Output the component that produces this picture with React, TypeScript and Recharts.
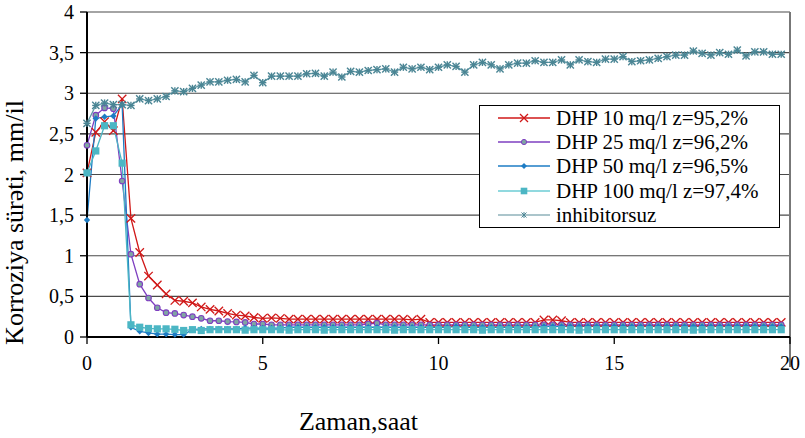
import React from 'react';
import { LineChart, Line, XAxis, YAxis, CartesianGrid } from 'recharts';

const times = [
  0, 0.25, 0.5, 0.75, 1, 1.25, 1.5, 1.75, 2, 2.25, 2.5, 2.75, 3, 3.25, 3.5, 3.75,
  4, 4.25, 4.5, 4.75, 5, 5.25, 5.5, 5.75, 6, 6.25, 6.5, 6.75, 7, 7.25, 7.5, 7.75,
  8, 8.25, 8.5, 8.75, 9, 9.25, 9.5, 9.75, 10, 10.25, 10.5, 10.75, 11, 11.25, 11.5, 11.75,
  12, 12.25, 12.5, 12.75, 13, 13.25, 13.5, 13.75, 14, 14.25, 14.5, 14.75, 15, 15.25, 15.5, 15.75,
  16, 16.25, 16.5, 16.75, 17, 17.25, 17.5, 17.75, 18, 18.25, 18.5, 18.75, 19, 19.25, 19.5, 19.75,
];

const dhp10 = [
  2.02, 2.52, 2.65, 2.54, 2.93, 1.46, 1.04, 0.75, 0.64, 0.53, 0.45, 0.44, 0.42, 0.37, 0.34, 0.32,
  0.29, 0.27, 0.26, 0.24, 0.23, 0.235, 0.23, 0.22, 0.22, 0.22, 0.22, 0.22, 0.22, 0.22, 0.22, 0.22,
  0.22, 0.22, 0.22, 0.22, 0.22, 0.21, 0.22, 0.18, 0.18, 0.18, 0.18, 0.18, 0.18, 0.18, 0.18, 0.18,
  0.18, 0.18, 0.18, 0.18, 0.21, 0.21, 0.2, 0.18, 0.18, 0.18, 0.18, 0.18, 0.18, 0.18, 0.18, 0.18,
  0.18, 0.18, 0.18, 0.18, 0.18, 0.18, 0.18, 0.18, 0.18, 0.18, 0.18, 0.18, 0.18, 0.18, 0.18, 0.18,
];

const dhp25 = [
  2.36, 2.73, 2.82, 2.81, 1.92, 1.02, 0.65, 0.48, 0.36, 0.3, 0.29, 0.27, 0.25, 0.23, 0.2, 0.2,
  0.19, 0.185, 0.18, 0.16, 0.16, 0.15, 0.15, 0.15, 0.15, 0.15, 0.15, 0.15, 0.15, 0.15, 0.15, 0.15,
  0.16, 0.17, 0.15, 0.15, 0.15, 0.15, 0.15, 0.15, 0.15, 0.15, 0.15, 0.15, 0.15, 0.15, 0.15, 0.15,
  0.15, 0.15, 0.15, 0.15, 0.15, 0.15, 0.15, 0.15, 0.15, 0.15, 0.15, 0.15, 0.15, 0.15, 0.15, 0.15,
  0.15, 0.15, 0.15, 0.15, 0.15, 0.15, 0.15, 0.15, 0.15, 0.15, 0.15, 0.15, 0.15, 0.15, 0.15, 0.15,
];

const dhp50 = [
  1.44, 2.69, 2.71, 2.72, 2.86, 0.12, 0.07, 0.05, 0.035, 0.035, 0.03, 0.03, 0.09, 0.1, 0.1, 0.1,
  0.1, 0.1, 0.11, 0.11, 0.11, 0.11, 0.11, 0.12, 0.12, 0.12, 0.12, 0.12, 0.12, 0.12, 0.12, 0.12,
  0.12, 0.12, 0.12, 0.12, 0.12, 0.12, 0.12, 0.12, 0.12, 0.12, 0.13, 0.12, 0.12, 0.12, 0.12, 0.12,
  0.12, 0.12, 0.12, 0.12, 0.13, 0.13, 0.13, 0.13, 0.13, 0.13, 0.13, 0.13, 0.13, 0.13, 0.13, 0.13,
  0.13, 0.13, 0.13, 0.13, 0.13, 0.13, 0.13, 0.13, 0.13, 0.13, 0.13, 0.13, 0.13, 0.13, 0.13, 0.13,
];

const dhp100 = [
  2.02, 2.29, 2.6, 2.6, 2.14, 0.15, 0.12, 0.105, 0.1, 0.1, 0.095, 0.08, 0.09, 0.08, 0.09, 0.09,
  0.09, 0.09, 0.085, 0.09, 0.09, 0.09, 0.09, 0.085, 0.09, 0.09, 0.09, 0.085, 0.09, 0.09, 0.09, 0.09,
  0.09, 0.09, 0.09, 0.085, 0.09, 0.09, 0.09, 0.09, 0.09, 0.09, 0.09, 0.09, 0.09, 0.085, 0.09, 0.09,
  0.09, 0.09, 0.09, 0.09, 0.09, 0.09, 0.09, 0.09, 0.085, 0.09, 0.09, 0.09, 0.09, 0.09, 0.09, 0.09,
  0.09, 0.09, 0.09, 0.09, 0.09, 0.085, 0.09, 0.09, 0.09, 0.09, 0.09, 0.09, 0.09, 0.09, 0.09, 0.09,
];

const noInhibitor = [
  2.63, 2.85, 2.88, 2.86, 2.86, 2.85, 2.93, 2.91, 2.93, 2.96, 3.03, 3.02, 3.06, 3.1, 3.14, 3.14,
  3.16, 3.17, 3.14, 3.22, 3.13, 3.21, 3.21, 3.21, 3.21, 3.24, 3.245, 3.21, 3.26, 3.2, 3.27, 3.26,
  3.28, 3.29, 3.3, 3.26, 3.32, 3.3, 3.32, 3.29, 3.32, 3.35, 3.33, 3.26, 3.35, 3.38, 3.35, 3.3,
  3.35, 3.37, 3.37, 3.4, 3.38, 3.38, 3.41, 3.35, 3.41, 3.39, 3.38, 3.42, 3.42, 3.45, 3.39, 3.4,
  3.41, 3.43, 3.45, 3.47, 3.47, 3.52, 3.49, 3.47, 3.5, 3.48, 3.53, 3.46, 3.51, 3.51, 3.48, 3.48,
];

const seriesNames = [
  'DHP 10 mq/l z=95,2%',
  'DHP 25 mq/l z=96,2%',
  'DHP 50 mq/l z=96,5%',
  'DHP 100 mq/l z=97,4%',
  'inhibitorsuz',
];

const xTicks = [0, 5, 10, 15, 20];
const yTicks = [0, 0.5, 1, 1.5, 2, 2.5, 3, 3.5, 4];

const data = times.map((t, i) => ({
  t,
  a: dhp10[i],
  b: dhp25[i],
  c: dhp50[i],
  d: dhp100[i],
  e: noInhibitor[i],
}));

const FONT = "'Liberation Serif', Tinos, 'Times New Roman', Times, 'Nimbus Roman', 'DejaVu Serif', serif";

const RED = '#D01818';
const PURPLE = '#7E3FC0';
const BLUE = '#1E7CC4';
const CYAN = '#4CB6C4';
const TEAL = '#5F98A6';

const CrossDot = (p: any) => {
  const { cx, cy } = p;
  if (cx == null || cy == null) return null;
  const s = 4.2;
  return (
    <g>
      <line x1={cx - s} y1={cy - s} x2={cx + s} y2={cy + s} stroke={RED} strokeWidth={1.3} />
      <line x1={cx - s} y1={cy + s} x2={cx + s} y2={cy - s} stroke={RED} strokeWidth={1.3} />
    </g>
  );
};

const CircleDot = (p: any) => {
  const { cx, cy } = p;
  if (cx == null || cy == null) return null;
  return <circle cx={cx} cy={cy} r={2.8} fill="#7FA6A2" stroke={PURPLE} strokeWidth={1.1} />;
};

const DiamondDot = (p: any) => {
  const { cx, cy } = p;
  if (cx == null || cy == null) return null;
  const s = 3.2;
  return <path d={`M${cx},${cy - s}L${cx + s},${cy}L${cx},${cy + s}L${cx - s},${cy}Z`} fill={BLUE} />;
};

const SquareDot = (p: any) => {
  const { cx, cy } = p;
  if (cx == null || cy == null) return null;
  const s = 3.6;
  return <rect x={cx - s} y={cy - s} width={2 * s} height={2 * s} fill={CYAN} />;
};

const StarDot = (p: any) => {
  const { cx, cy } = p;
  if (cx == null || cy == null) return null;
  const s = 3.6;
  return (
    <g stroke="#4A8594" strokeWidth={1.4}>
      <line x1={cx - s} y1={cy - s} x2={cx + s} y2={cy + s} />
      <line x1={cx - s} y1={cy + s} x2={cx + s} y2={cy - s} />
      <line x1={cx} y1={cy - s} x2={cx} y2={cy + s} />
      <line x1={cx - s} y1={cy} x2={cx + s} y2={cy} />
    </g>
  );
};

const legendStyles = [
  { color: RED, kind: 'cross' },
  { color: PURPLE, kind: 'circle' },
  { color: BLUE, kind: 'diamond' },
  { color: '#6CCCD4', kind: 'square' },
  { color: '#8FB2BA', kind: 'star' },
];

const LegendMarker = ({ kind, color }: { kind: string; color: string }) => {
  const cx = 30;
  const cy = 10;
  let m: React.ReactNode = null;
  if (kind === 'cross') {
    m = (
      <g stroke={RED} strokeWidth={1.2}>
        <line x1={cx - 4} y1={cy - 4} x2={cx + 4} y2={cy + 4} />
        <line x1={cx - 4} y1={cy + 4} x2={cx + 4} y2={cy - 4} />
      </g>
    );
  } else if (kind === 'circle') {
    m = <circle cx={cx} cy={cy} r={2.6} fill="#7FA6A2" stroke={PURPLE} strokeWidth={1} />;
  } else if (kind === 'diamond') {
    m = <path d={`M${cx},${cy - 3}L${cx + 3},${cy}L${cx},${cy + 3}L${cx - 3},${cy}Z`} fill={BLUE} />;
  } else if (kind === 'square') {
    m = <rect x={cx - 3.3} y={cy - 3.3} width={6.6} height={6.6} fill={CYAN} />;
  } else {
    m = (
      <g stroke="#4A8594" strokeWidth={1}>
        <line x1={cx - 2.5} y1={cy - 2.5} x2={cx + 2.5} y2={cy + 2.5} />
        <line x1={cx - 2.5} y1={cy + 2.5} x2={cx + 2.5} y2={cy - 2.5} />
        <line x1={cx} y1={cy - 3} x2={cx} y2={cy + 3} />
      </g>
    );
  }
  return (
    <svg width={60} height={20} style={{ display: 'block' }}>
      <line x1={4} y1={cy} x2={56} y2={cy} stroke={color} strokeWidth={1.3} />
      {m}
    </svg>
  );
};

const ChartLegend = () => (
  <div
    style={{
      position: 'absolute',
      left: 479,
      top: 105,
      border: '1px solid #000',
      background: '#fff',
      width: 301,
      height: 123,
      boxSizing: 'border-box',
      padding: '0 0 0 14px',
      fontFamily: FONT,
      fontSize: 21,
      color: '#000',
    }}
  >
    {seriesNames.map((n, i) => (
      <div key={n} style={{ display: 'flex', alignItems: 'center', height: 24.2, lineHeight: '24px' }}>
        <LegendMarker kind={legendStyles[i].kind} color={legendStyles[i].color} />
        <span style={{ marginLeft: 2, whiteSpace: 'nowrap' }}>{n}</span>
      </div>
    ))}
  </div>
);

const fmt = (v: number) => String(v).replace('.', ',');

export default function App() {
  return (
    <div style={{ position: 'absolute', left: 0, top: 0, width: 805, height: 438, background: '#fff' }}>
      <LineChart
        width={805}
        height={438}
        data={data}
        margin={{ top: 12, right: 15, bottom: 71, left: 0 }}
      >
        <CartesianGrid vertical={false} stroke="#4a4a4a" strokeWidth={1.2} />
        <XAxis
          dataKey="t"
          type="number"
          domain={[0, 20]}
          ticks={xTicks}
          tickFormatter={fmt}
          axisLine={{ stroke: '#000', strokeWidth: 2 }}
          tickLine={{ stroke: '#000', strokeWidth: 1.3 }}
          tickSize={7}
          tickMargin={12}
          tick={{ fontFamily: FONT, fontSize: 20, fill: '#000' }}
          label={{
            value: 'Zaman,saat',
            position: 'insideBottom',
            offset: -63,
            dx: -80,
            style: { fontFamily: FONT, fontSize: 26, fill: '#000' },
          }}
        />
        <YAxis
          type="number"
          domain={[0, 4]}
          ticks={yTicks}
          tickFormatter={fmt}
          width={87}
          axisLine={{ stroke: '#000', strokeWidth: 2 }}
          tickLine={{ stroke: '#000', strokeWidth: 1.3 }}
          tickSize={7}
          tickMargin={6}
          tick={{ fontFamily: FONT, fontSize: 20, fill: '#000' }}
          label={{
            value: 'Korroziya sürəti, mm/il',
            angle: -90,
            position: 'insideLeft',
            offset: 14,
            dy: 48,
            style: { fontFamily: FONT, fontSize: 26, fill: '#000', textAnchor: 'middle' },
          }}
        />
        <Line dataKey="a" name={seriesNames[0]} stroke={RED} strokeWidth={1.3} dot={<CrossDot />} isAnimationActive={false} />
        <Line dataKey="b" name={seriesNames[1]} stroke={PURPLE} strokeWidth={1.3} dot={<CircleDot />} isAnimationActive={false} />
        <Line dataKey="c" name={seriesNames[2]} stroke={BLUE} strokeWidth={1.3} dot={<DiamondDot />} isAnimationActive={false} />
        <Line dataKey="d" name={seriesNames[3]} stroke={CYAN} strokeWidth={1.3} dot={<SquareDot />} isAnimationActive={false} />
        <Line dataKey="e" name={seriesNames[4]} stroke={TEAL} strokeWidth={1.3} dot={<StarDot />} isAnimationActive={false} />
        <line x1={790} y1={12} x2={790} y2={367} stroke="#777" strokeWidth={2} />
      </LineChart>
      <ChartLegend />
    </div>
  );
}
